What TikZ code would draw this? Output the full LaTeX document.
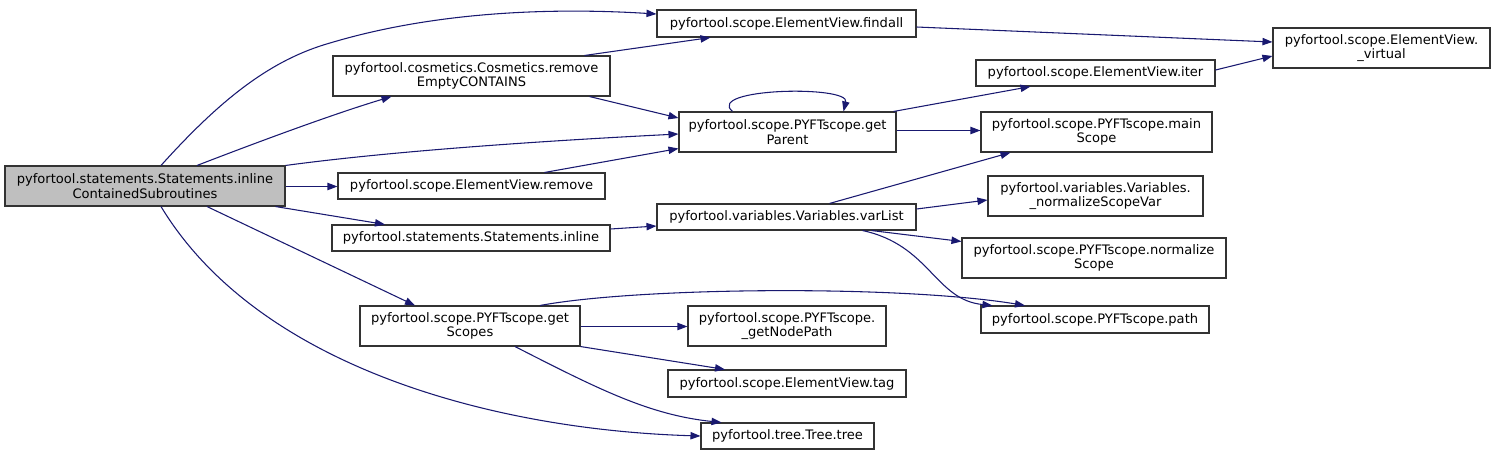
\documentclass[tikz,border=0pt]{standalone}
\usepackage{fontspec}
\setmainfont{DejaVu Sans}
\usetikzlibrary{arrows.meta,calc}
\definecolor{edgec}{HTML}{191970}
\definecolor{boxc}{HTML}{333333}
\definecolor{mainfill}{HTML}{BFBFBF}
\begin{document}
\begin{tikzpicture}[x=0.75pt,y=-0.75pt,
  box/.style={draw=boxc, fill=white, line width=0.8pt, inner sep=0pt, align=center, font=\fontsize{9.8}{10.9}\selectfont},
  edge/.style={draw=edgec, line width=0.8pt, -{Triangle[length=7.5pt,width=5.5pt]}}]
\useasboundingbox (0,0) rectangle (1496,454);

\node[box, fill=mainfill, minimum width=210pt, minimum height=30pt] (main) at (145,186) {pyfortool.statements.Statements.inline\\ContainedSubroutines};
\node[box, minimum width=194.25pt, minimum height=20.25pt] (findall) at (786.5,23.5) {pyfortool.scope.ElementView.findall};
\node[box, minimum width=207.75pt, minimum height=30pt] (remempty) at (471.5,76) {pyfortool.cosmetics.Cosmetics.remove\\EmptyCONTAINS};
\node[box, minimum width=162.75pt, minimum height=30pt] (getparent) at (787.5,132) {pyfortool.scope.PYFTscope.get\\Parent};
\node[box, minimum width=162.75pt, minimum height=30pt] (virtual) at (1381.5,48) {pyfortool.scope.ElementView.\\\_virtual};
\node[box, minimum width=179.25pt, minimum height=19.5pt] (iter) at (1095.5,73) {pyfortool.scope.ElementView.iter};
\node[box, minimum width=173.25pt, minimum height=30pt] (mainscope) at (1096.5,132) {pyfortool.scope.PYFTscope.main\\Scope};
\node[box, minimum width=200.25pt, minimum height=19.5pt] (remove) at (471.5,186) {pyfortool.scope.ElementView.remove};
\node[box, minimum width=208.5pt, minimum height=19.5pt] (inline) at (471,238) {pyfortool.statements.Statements.inline};
\node[box, minimum width=194.25pt, minimum height=19.5pt] (varlist) at (786.5,217) {pyfortool.variables.Variables.varList};
\node[box, minimum width=161.25pt, minimum height=30pt] (nsv) at (1095.5,196) {pyfortool.variables.Variables.\\\_normalizeScopeVar};
\node[box, minimum width=198pt, minimum height=30pt] (normscope) at (1094,258) {pyfortool.scope.PYFTscope.normalize\\Scope};
\node[box, minimum width=171pt, minimum height=20.25pt] (path) at (1095,319.5) {pyfortool.scope.PYFTscope.path};
\node[box, minimum width=165pt, minimum height=30pt] (getscopes) at (470,326) {pyfortool.scope.PYFTscope.get\\Scopes};
\node[box, minimum width=148.5pt, minimum height=30pt] (nodepath) at (787,326) {pyfortool.scope.PYFTscope.\\\_getNodePath};
\node[box, minimum width=178.5pt, minimum height=20.25pt] (tag) at (787,383.5) {pyfortool.scope.ElementView.tag};
\node[box, minimum width=129.75pt, minimum height=19.5pt] (tree) at (787.5,436) {pyfortool.tree.Tree.tree};

% edges from main
\draw[edge] ($(main.north)+(16,0)$) .. controls (220,100) and (270,60) .. (330,43) .. controls (440,10) and (560,8) .. ($(findall.west)+(0,-9.5)$);
\draw[edge] ($(main.north)+(52,0)$) .. controls (250,145) and (330,115) .. ($(remempty.south)+(-80,0)$);
\draw[edge] ($(main.north east)+(0,0)$) .. controls (400,150) and (560,140) .. ($(getparent.west)+(0,2)$);
\draw[edge] ($(main.east)+(0,0.5)$) -- ($(remove.west)+(0,0.5)$);
\draw[edge] ($(main.south east)+(-10,0)$) -- ($(inline.north)+(-86,0)$);
\draw[edge] ($(main.south)+(62,0)$) -- ($(getscopes.north)+(-55,0)$);
\draw[edge] ($(main.south)+(16,0)$) .. controls (260,370) and (500,430) .. (tree.west);

% removeEmptyCONTAINS
\draw[edge] ($(remempty.north)+(113,0)$) -- ($(findall.south)+(-76,0)$);
\draw[edge] ($(remempty.south)+(118,0)$) -- ($(getparent.west)+(0,-14)$);

% getParent
\draw[edge] ($(getparent.north)+(-55,0)$) .. controls (705,88) and (850,85) .. ($(getparent.north)+(56,0)$);
\draw[edge] ($(getparent.north east)+(-3,0)$) -- ($(iter.south)+(-65,0)$);
\draw[edge] ($(getparent.east)+(0,-1.5)$) -- ($(mainscope.west)+(0,-1.5)$);

% remove
\draw[edge] ($(remove.north)+(73,0)$) -- ($(getparent.south west)+(0,-4)$);

% findall, iter
\draw[edge] ($(findall.east)+(0,3.5)$) -- ($(virtual.west)+(0,-6)$);
\draw[edge] ($(iter.east)+(0,-3)$) -- ($(virtual.west)+(0,8)$);

% inline
\draw[edge] ($(inline.east)+(0,-9)$) -- ($(varlist.west)+(0,9)$);

% varList
\draw[edge] ($(varlist.north)+(43,0)$) -- ($(mainscope.south)+(-86,0)$);
\draw[edge] ($(varlist.east)+(0,-8)$) -- ($(nsv.west)+(0,4)$);
\draw[edge] ($(varlist.south)+(85,0)$) -- ($(normscope.north west)+(0,4)$);
\draw[edge] ($(varlist.south)+(76,0)$) .. controls (930,245) and (935,300) .. ($(path.north west)+(12,0)$);

% getScopes
\draw[edge] ($(getscopes.north)+(70,0)$) .. controls (640,287) and (900,285) .. ($(path.north)+(-70,0)$);
\draw[edge] ($(getscopes.east)+(0,0.5)$) -- ($(nodepath.west)+(0,0.5)$);
\draw[edge] (getscopes.south east) -- ($(tag.north)+(-62,0)$);
\draw[edge] ($(getscopes.south)+(45,0)$) .. controls (600,390) and (650,415) .. ($(tree.north)+(-66,0)$);
\end{tikzpicture}
\end{document}
